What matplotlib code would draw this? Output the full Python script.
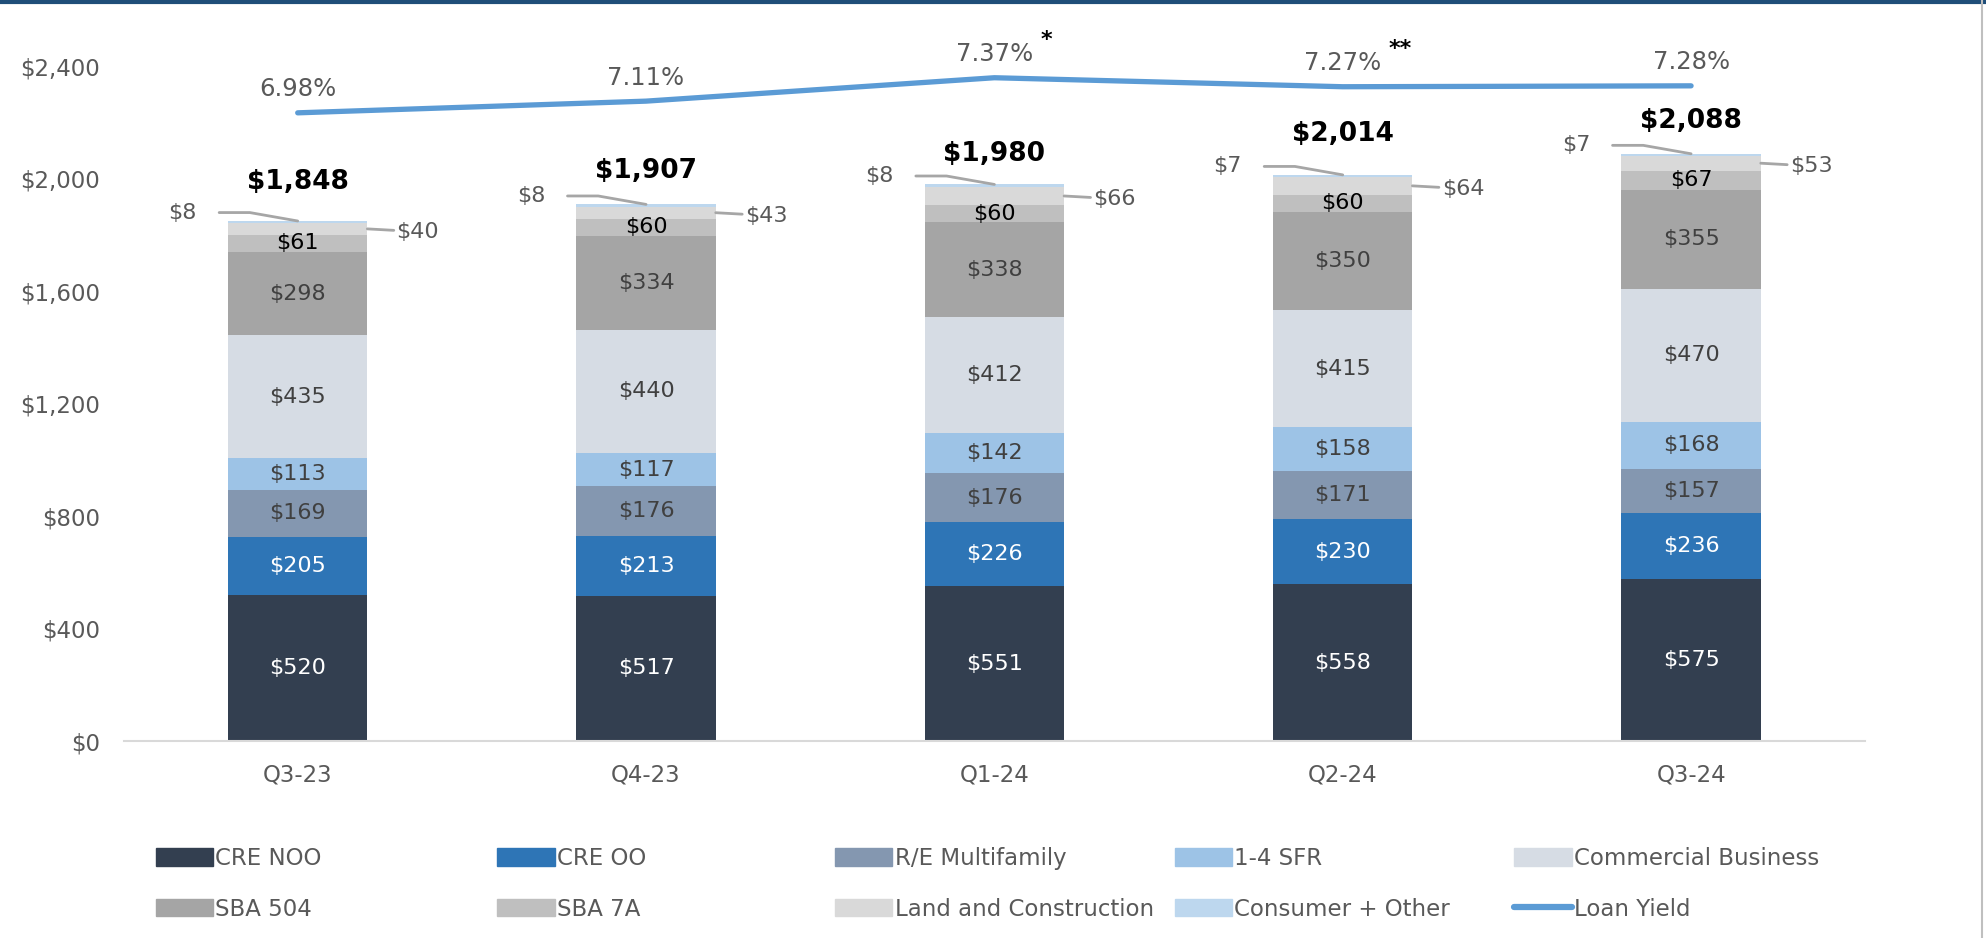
import numpy as np
import matplotlib.pyplot as plt
from matplotlib.lines import Line2D
from matplotlib.patches import Patch

plt.rcParams['font.family'] = ['DejaVu Sans']

# datos
quarters = ['Q3-23', 'Q4-23', 'Q1-24', 'Q2-24', 'Q3-24']
series = ['CRE NOO', 'CRE OO', 'R/E Multifamily', '1-4 SFR', 'Commercial Business',
          'SBA 504', 'SBA 7A', 'Land and Construction', 'Consumer + Other']
cre_noo = [520, 517, 551, 558, 575]
cre_oo = [205, 213, 226, 230, 236]
multifamily = [169, 176, 176, 171, 157]
sfr = [113, 117, 142, 158, 168]
comm_business = [435, 440, 412, 415, 470]
sba504 = [298, 334, 338, 350, 355]
sba7a = [61, 60, 60, 60, 67]
land_constr = [40, 43, 66, 64, 53]
consumer = [8, 8, 8, 7, 7]
totals = [1848, 1907, 1980, 2014, 2088]
loan_yield = [6.98, 7.11, 7.37, 7.27, 7.28]
yield_marks = ['', '', '*', '**', '']
yticks = [0, 400, 800, 1200, 1600, 2000, 2400]

valores = [cre_noo, cre_oo, multifamily, sfr, comm_business, sba504, sba7a, land_constr, consumer]
colores = ['#333F50', '#2E75B6', '#8497B0', '#9DC3E6', '#D6DCE4',
           '#A5A5A5', '#BFBFBF', '#D9D9D9', '#BDD7EE']
txt_col = ['white', 'white', '#404040', '#404040', '#404040', '#404040', 'black']
linea_col = '#5B9BD5'
gris = '#595959'

fig = plt.figure(figsize=(19.86, 9.38), dpi=100)
ax = fig.add_axes([0.0622, 0.21, 0.877, 0.7196])

x = np.arange(len(quarters))
ancho = 0.4
base = np.zeros(len(quarters))
for i, v in enumerate(valores):
    v = np.array(v)
    ax.bar(x, v, ancho, bottom=base, color=colores[i], zorder=2)
    # etiquetas dentro de la barra
    if i < 7:
        for j in range(len(x)):
            ax.text(x[j], base[j] + v[j] / 2, '$%d' % v[j], ha='center', va='center',
                    fontsize=16, color=txt_col[i], zorder=3)
    base = base + v

# etiquetas afuera con linea guia
for j in range(len(x)):
    top = base[j]
    land_mid = top - consumer[j] - land_constr[j] / 2
    ax.annotate('$%d' % consumer[j], xy=(x[j], top), xytext=(x[j] - 0.33, top + 30),
                ha='center', va='center', fontsize=16, color=gris,
                arrowprops=dict(arrowstyle='-', color='#A6A6A6', lw=2,
                                shrinkA=14, shrinkB=0,
                                connectionstyle='angle,angleA=0,angleB=170,rad=0'))
    ax.annotate('$%d' % land_constr[j], xy=(x[j] + ancho / 2, land_mid),
                xytext=(x[j] + 0.345, land_mid - 10),
                ha='center', va='center', fontsize=16, color=gris,
                arrowprops=dict(arrowstyle='-', color='#A6A6A6', lw=2,
                                shrinkA=22, shrinkB=0))

# totales
total_dy = [140, 118, 110, 144, 118]
for j in range(len(x)):
    ax.text(x[j], base[j] + total_dy[j], '${:,}'.format(totals[j]), ha='center', va='center',
            fontsize=19, fontweight='bold', color='black', zorder=3)

ax.set_xlim(-0.5, len(quarters) - 0.5)
ax.set_ylim(0, 2400)
ax.set_yticks(yticks)
ax.set_yticklabels(['${:,}'.format(t) for t in yticks])
ax.set_xticks(x)
ax.set_xticklabels(quarters)
ax.tick_params(axis='both', length=0, labelsize=16.5, labelcolor=gris)
ax.tick_params(axis='x', pad=16)
ax.tick_params(axis='y', pad=17)
for s in ['top', 'right', 'left']:
    ax.spines[s].set_visible(False)
ax.spines['bottom'].set_color('#D9D9D9')
ax.spines['bottom'].set_linewidth(1.5)

# eje secundario para el rendimiento
ax2 = ax.twinx()
ax2.set_ylim(0, 7.5)
ax2.plot(x, loan_yield, color=linea_col, lw=3.8, solid_capstyle='round', zorder=4)
ax2.axis('off')
for j in range(len(x)):
    ax2.annotate('%.2f%%' % loan_yield[j], xy=(x[j], loan_yield[j]), xytext=(0, 17),
                 textcoords='offset points', ha='center', va='center',
                 fontsize=17.5, color=gris, annotation_clip=False)
    if yield_marks[j]:
        ax2.annotate(yield_marks[j], xy=(x[j], loan_yield[j]), xytext=(33, 27),
                     textcoords='offset points', ha='left', va='center',
                     fontsize=16, fontweight='bold', color='black', annotation_clip=False)

# leyenda, una por columna
handles = [Patch(color=c) for c in colores] + [Line2D([], [], color=linea_col, lw=4.5,
                                                      solid_capstyle='round')]
labels = series + ['Loan Yield']
xs = [0.0785, 0.2505, 0.4205, 0.5915, 0.7625]
for k in range(5):
    fig.legend([handles[k], handles[k + 5]], [labels[k], labels[k + 5]],
               loc='upper left', bbox_to_anchor=(xs[k], 0.097), frameon=False,
               fontsize=16.5, labelcolor=gris, handlelength=2.5, handleheight=0.8,
               handletextpad=0.1, labelspacing=1.2, borderpad=0, borderaxespad=0)

# bordes de la diapositiva
fig.add_artist(Line2D([0, 1], [0.9978, 0.9978], color='#1F4E79', lw=3, transform=fig.transFigure))
fig.add_artist(Line2D([0.998, 0.998], [0, 1], color='#BFBFBF', lw=1.5, transform=fig.transFigure))

fig.savefig('out.png', dpi=100)
